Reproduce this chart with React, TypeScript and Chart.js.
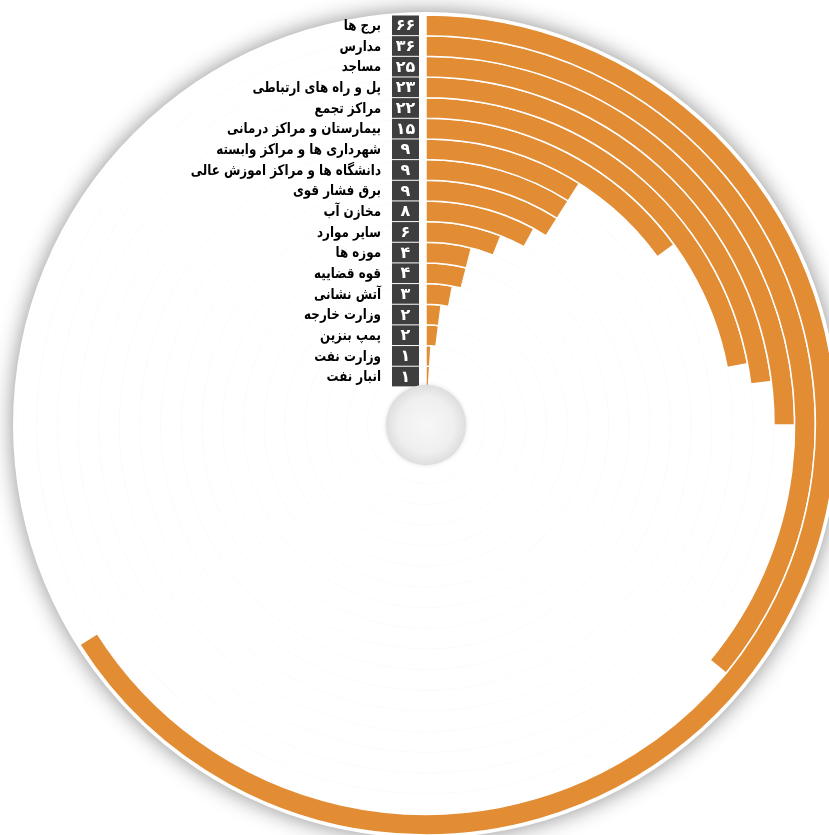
import React, { useEffect, useRef } from "react";
import { Chart, registerables } from "chart.js";

Chart.register(...registerables);

const categories: string[] = [
  "برج ها",
  "مدارس",
  "مساجد",
  "پل و راه های ارتباطی",
  "مراکز تجمع",
  "بیمارستان و مراکز درمانی",
  "شهرداری ها و مراکز وابسته",
  "دانشگاه ها و مراکز اموزش عالی",
  "برق فشار قوی",
  "مخازن آب",
  "سایر موارد",
  "موزه ها",
  "قوه قضاییه",
  "آتش نشانی",
  "وزارت خارجه",
  "پمپ بنزین",
  "وزارت نفت",
  "انبار نفت",
];

const values: number[] = [66, 36, 25, 23, 22, 15, 9, 9, 9, 8, 6, 4, 4, 3, 2, 2, 1, 1];

const maxValue = 100;

const ORANGE = "#e28c34";
const BOX = "#3e3e3e";

const toPersianDigits = (n: number) =>
  String(n).replace(/[0-9]/g, (d) => "۰۱۲۳۴۵۶۷۸۹"[Number(d)]);

const decorPlugin = {
  id: "decor",
  beforeDatasetsDraw(chart: any) {
    const ctx = chart.ctx;
    const arc = chart.getDatasetMeta(0).data[0];
    if (!arc) return;
    const { x, y, outerRadius } = arc.getProps(["x", "y", "outerRadius"], true);
    ctx.save();
    ctx.shadowColor = "rgba(0,0,0,0.45)";
    ctx.shadowBlur = 22;
    ctx.beginPath();
    ctx.arc(x, y, outerRadius + 3, 0, Math.PI * 2);
    ctx.fillStyle = "#ffffff";
    ctx.fill();
    ctx.restore();
  },
  afterDatasetsDraw(chart: any) {
    const ctx = chart.ctx;
    const n = chart.data.datasets.length;
    let cx = 0;
    let cy = 0;
    let innermost = 0;
    for (let i = 0; i < n; i++) {
      const arc = chart.getDatasetMeta(i).data[0];
      const { x, y, outerRadius, innerRadius } = arc.getProps(
        ["x", "y", "outerRadius", "innerRadius"],
        true
      );
      cx = x;
      cy = y;
      innermost = innerRadius;
      const top = y - outerRadius;
      const bottom = y - innerRadius;
      const mid = (top + bottom) / 2;
      // dark value box
      ctx.save();
      ctx.fillStyle = BOX;
      ctx.fillRect(x - 34, top + 0.5, 27, bottom - top - 1);
      ctx.fillStyle = "#ffffff";
      ctx.font = 'bold 16px "DejaVu Sans"';
      ctx.textAlign = "center";
      ctx.textBaseline = "middle";
      ctx.fillText(toPersianDigits(chart.data.datasets[i].data[0]), x - 20.5, mid + 1);
      ctx.restore();
      // category label (slightly condensed)
      ctx.save();
      ctx.fillStyle = "#000000";
      ctx.font = 'bold 14.5px "DejaVu Sans"';
      ctx.direction = "rtl";
      ctx.textAlign = "right";
      ctx.textBaseline = "middle";
      ctx.translate(x - 45, mid + 1);
      ctx.scale(0.82, 1);
      ctx.fillText(chart.data.datasets[i].label, 0, 0);
      ctx.restore();
    }
    // centre hub
    ctx.save();
    const r = innermost + 2;
    ctx.shadowColor = "rgba(0,0,0,0.12)";
    ctx.shadowBlur = 4;
    const g = ctx.createRadialGradient(cx, cy, 0, cx, cy, r);
    g.addColorStop(0, "#f7f7f7");
    g.addColorStop(0.7, "#efefef");
    g.addColorStop(1, "#dedede");
    ctx.beginPath();
    ctx.arc(cx, cy, r, 0, Math.PI * 2);
    ctx.fillStyle = g;
    ctx.fill();
    ctx.restore();
  },
};

export default function App() {
  const canvasRef = useRef<HTMLCanvasElement | null>(null);

  useEffect(() => {
    document.body.style.margin = "0";
    const canvas = canvasRef.current;
    if (!canvas) return;
    const chart = new Chart(canvas, {
      type: "doughnut",
      data: {
        labels: ["value", "rest"],
        datasets: categories.map((label, i) => ({
          label,
          data: [values[i], maxValue - values[i]],
          backgroundColor: [ORANGE, "rgba(0,0,0,0)"],
          borderColor: ["#ffffff", "rgba(0,0,0,0.012)"],
          borderWidth: [1.5, 1],
          hoverOffset: 0,
        })),
      },
      options: {
        responsive: false,
        animation: false,
        events: [],
        radius: 410,
        cutout: "9.3%",
        layout: { padding: { left: 23, right: 0, top: 15, bottom: 0 } },
        plugins: {
          legend: { display: false },
          tooltip: { enabled: false },
        },
      } as any,
      plugins: [decorPlugin],
    });
    return () => chart.destroy();
  }, []);

  return (
    <canvas
      ref={canvasRef}
      width={829}
      height={835}
      style={{ display: "block", width: 829, height: 835 }}
    />
  );
}
